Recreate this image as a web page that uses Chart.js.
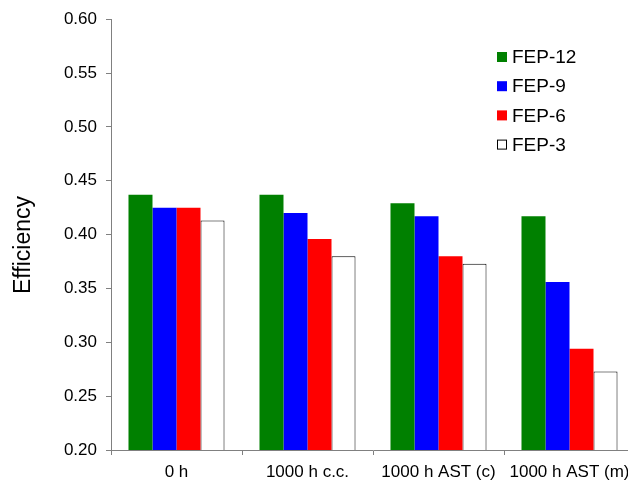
<!DOCTYPE html>
<html>
<head>
<meta charset="utf-8">
<script src="https://cdn.jsdelivr.net/npm/chart.js@4/dist/chart.umd.min.js"></script>
<style>
    html, body { margin: 0; padding: 0; background: #fff; overflow: hidden; }
    #chart { display: block; }
</style>
</head>
<body>
<canvas id="chart" width="640" height="482"></canvas>
<script>
// Chart data
const categories = ['0 h', '1000 h c.c.', '1000 h AST (c)', '1000 h AST (m)'];
const seriesNames = ['FEP-12', 'FEP-9', 'FEP-6', 'FEP-3'];
const fep12 = [0.437, 0.437, 0.429, 0.417];
const fep9 = [0.425, 0.420, 0.417, 0.356];
const fep6 = [0.425, 0.396, 0.380, 0.294];
const fep3 = [0.413, 0.380, 0.373, 0.273];
const yTicks = [0.20, 0.25, 0.30, 0.35, 0.40, 0.45, 0.50, 0.55, 0.60];
const yTitle = 'Efficiency';

const seriesColors = ['#008000', '#0000ff', '#ff0000', '#ffffff'];
const seriesValues = [fep12, fep9, fep6, fep3];
const FONT = 'Arial, "Liberation Sans", sans-serif';

// Legend drawn inside the plot, top right
const innerLegend = {
    id: 'innerLegend',
    afterDraw(chart) {
        const ctx = chart.ctx;
        const x = 497, y0 = 57, step = 29.2, box = 10;
        ctx.save();
        ctx.font = '19px ' + FONT;
        ctx.textBaseline = 'middle';
        chart.data.datasets.forEach((ds, i) => {
            const y = y0 + i * step;
            ctx.fillStyle = ds.backgroundColor;
            ctx.fillRect(x, y - box / 2, box, box);
            if (ds.borderWidth) {
                ctx.strokeStyle = '#000';
                ctx.lineWidth = 1;
                ctx.strokeRect(x + 0.5, y - box / 2 + 0.5, box - 1, box - 1);
            }
            ctx.fillStyle = '#000';
            ctx.fillText(ds.label, x + 15, y + 1);
        });
        ctx.restore();
    }
};

// Y axis title, sits a bit below the plot middle like the original
const yAxisTitle = {
    id: 'yAxisTitle',
    afterDraw(chart) {
        const ctx = chart.ctx;
        ctx.save();
        ctx.translate(24, 245);
        ctx.rotate(-Math.PI / 2);
        ctx.font = '23px ' + FONT;
        ctx.fillStyle = '#000';
        ctx.textAlign = 'center';
        ctx.textBaseline = 'middle';
        ctx.fillText(yTitle, 0, 0);
        ctx.restore();
    }
};

new Chart(document.getElementById('chart'), {
    type: 'bar',
    data: {
        labels: categories,
        datasets: seriesNames.map((name, i) => ({
            label: name,
            data: seriesValues[i],
            backgroundColor: seriesColors[i],
            borderColor: '#000',
            borderWidth: i === 3 ? 1 : 0,
            borderSkipped: 'bottom',
            categoryPercentage: 0.733,
            barPercentage: 1.0
        }))
    },
    options: {
        responsive: false,
        animation: false,
        devicePixelRatio: 1,
        layout: { padding: { left: 0, top: 17, right: 5, bottom: 0 } },
        plugins: {
            legend: { display: false },
            tooltip: { enabled: false }
        },
        scales: {
            x: {
                grid: {
                    offset: true,
                    drawOnChartArea: false,
                    tickLength: 5,
                    color: '#808080'
                },
                border: { color: '#808080', width: 1 },
                ticks: {
                    color: '#000',
                    padding: 7,
                    maxRotation: 0,
                    font: { family: FONT, size: 17 }
                },
                afterFit(scale) { scale.height = 32; }
            },
            y: {
                min: 0.2,
                max: 0.6,
                afterBuildTicks(scale) {
                    scale.ticks = yTicks.map(v => ({ value: v }));
                },
                grid: {
                    drawOnChartArea: false,
                    tickLength: 5,
                    color: '#808080'
                },
                border: { color: '#808080', width: 1 },
                ticks: {
                    color: '#000',
                    padding: 9,
                    callback: v => v.toFixed(2),
                    font: { family: FONT, size: 17 }
                },
                title: { display: false },
                afterFit(scale) { scale.width = 111; }
            }
        }
    },
    plugins: [innerLegend, yAxisTitle]
});
</script>
</body>
</html>
